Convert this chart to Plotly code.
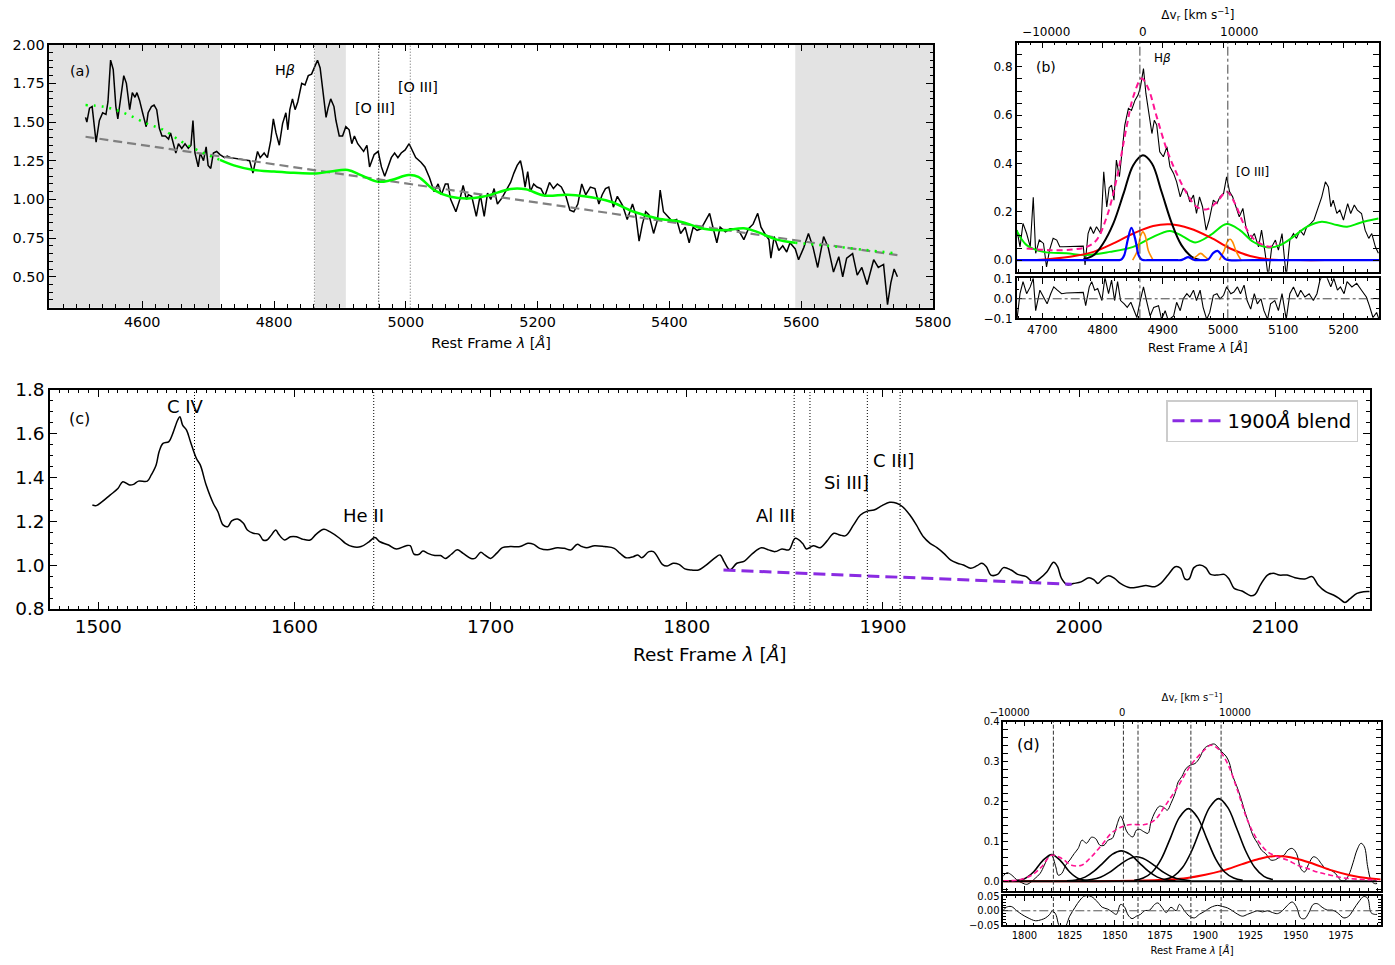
import plotly.graph_objects as go

FONT = "DejaVu Sans"

# ---------------- panel (a): H-beta region, continuum + Fe II ----------------
a_wave = [4514, 4516, 4520, 4524, 4530, 4535, 4540, 4545, 4548, 4552, 4556, 4560, 4563, 4567,
          4572, 4576, 4581, 4585, 4589, 4592, 4596, 4600, 4606, 4609, 4614, 4618, 4622, 4626,
          4630, 4635, 4640, 4643, 4647, 4651, 4655, 4660, 4665, 4670, 4674, 4677, 4680, 4685,
          4688, 4693, 4697, 4700, 4704, 4708, 4713, 4718, 4725, 4729, 4734, 4749, 4763, 4768,
          4775, 4779, 4785, 4790, 4795, 4799, 4803, 4808, 4813, 4818, 4821, 4824, 4828, 4832,
          4836, 4842, 4847, 4852, 4857, 4861, 4866, 4870, 4874, 4879, 4882, 4886, 4891, 4894,
          4899, 4904, 4909, 4914, 4918, 4922, 4927, 4931, 4936, 4941, 4945, 4952, 4958, 4963,
          4968, 4973, 4978, 4983, 4988, 4993, 4999, 5005, 5010, 5015, 5023, 5029, 5036, 5043,
          5049, 5054, 5060, 5064, 5068, 5076, 5082, 5087, 5092, 5095, 5100, 5107, 5113, 5119,
          5124, 5129, 5134, 5139, 5146, 5152, 5159, 5164, 5169, 5174, 5177, 5181, 5185, 5189,
          5194, 5199, 5205, 5211, 5218, 5224, 5230, 5236, 5243, 5249, 5255, 5261, 5267, 5273,
          5280, 5287, 5293, 5298, 5303, 5308, 5315, 5321, 5329, 5336, 5344, 5349, 5354, 5359,
          5364, 5369, 5376, 5382, 5386, 5391, 5397, 5404, 5411, 5417, 5424, 5430, 5436, 5442,
          5448, 5455, 5461, 5466, 5472, 5477, 5485, 5492, 5498, 5505, 5513, 5520, 5527, 5534,
          5539, 5546, 5551, 5554, 5559, 5566, 5572, 5578, 5583, 5591, 5596, 5604, 5611, 5618,
          5625, 5634, 5641, 5649, 5657, 5663, 5669, 5678, 5685, 5692, 5700, 5710, 5717, 5725,
          5731, 5736, 5741, 5746]
a_flux = [1.53, 1.50, 1.59, 1.60, 1.37, 1.51, 1.56, 1.55, 1.63, 1.90, 1.84, 1.60, 1.52, 1.66,
          1.80, 1.75, 1.58, 1.69, 1.66, 1.69, 1.64, 1.57, 1.47, 1.56, 1.60, 1.61, 1.58, 1.46,
          1.41, 1.41, 1.39, 1.43, 1.36, 1.30, 1.36, 1.33, 1.36, 1.33, 1.35, 1.51, 1.30, 1.21,
          1.30, 1.25, 1.34, 1.22, 1.20, 1.30, 1.31, 1.29, 1.27, 1.28, 1.27, 1.26, 1.25, 1.17,
          1.31, 1.27, 1.30, 1.27, 1.38, 1.52, 1.43, 1.35, 1.49, 1.56, 1.45, 1.58, 1.65, 1.58,
          1.63, 1.75, 1.74, 1.80, 1.81, 1.85, 1.90, 1.85, 1.69, 1.53, 1.59, 1.65, 1.60, 1.51,
          1.41, 1.41, 1.47, 1.45, 1.36, 1.41, 1.36, 1.34, 1.31, 1.35, 1.21, 1.29, 1.31, 1.21,
          1.15, 1.21, 1.27, 1.30, 1.27, 1.30, 1.32, 1.36, 1.31, 1.27, 1.24, 1.21, 1.14, 1.05,
          1.10, 1.03, 1.10, 1.10, 1.00, 0.92, 1.00, 1.09, 1.00, 1.03, 1.02, 0.89, 1.03, 0.89,
          1.04, 1.00, 1.07, 0.97, 1.01, 1.06, 1.11, 1.17, 1.22, 1.25, 1.19, 1.08, 1.18, 1.05,
          1.10, 1.08, 1.07, 1.02, 1.11, 1.07, 1.10, 1.08, 1.02, 0.93, 0.92, 0.97, 1.10, 1.03,
          1.08, 1.07, 0.97, 1.03, 1.07, 1.08, 0.95, 1.02, 0.96, 0.87, 0.97, 0.90, 0.73, 0.84,
          0.92, 0.90, 0.78, 0.87, 1.06, 0.92, 0.89, 0.86, 0.87, 0.78, 0.82, 0.72, 0.82, 0.80,
          0.81, 0.86, 0.91, 0.82, 0.72, 0.82, 0.79, 0.81, 0.81, 0.80, 0.74, 0.81, 0.84, 0.91,
          0.82, 0.77, 0.74, 0.62, 0.76, 0.67, 0.70, 0.66, 0.72, 0.68, 0.61, 0.69, 0.78, 0.69,
          0.56, 0.76, 0.69, 0.53, 0.63, 0.50, 0.62, 0.65, 0.51, 0.56, 0.45, 0.61, 0.56, 0.58,
          0.32, 0.46, 0.55, 0.50]

# continuum + Fe II model inside the fitted window
a_model_wave = [4718, 4739, 4769, 4800, 4830, 4864, 4886, 4912, 4932, 4958, 4978, 5004, 5019,
                5043, 5068, 5094, 5116, 5129, 5159, 5182, 5210, 5245, 5271, 5311, 5346, 5382,
                5417, 5452, 5483, 5513, 5533, 5563, 5591]
a_model_flux = [1.255, 1.22, 1.19, 1.18, 1.172, 1.168, 1.18, 1.19, 1.157, 1.114, 1.125, 1.157,
                1.146, 1.06, 1.017, 1.006, 1.017, 1.03, 1.067, 1.065, 1.025, 1.03, 1.02, 0.985,
                0.92, 0.877, 0.856, 0.81, 0.80, 0.813, 0.79, 0.74, 0.72]
# model extrapolated outside the window
a_ext_blue_wave = [4514, 4540, 4556, 4580, 4607, 4632, 4657, 4683, 4718]
a_ext_blue_flux = [1.61, 1.60, 1.584, 1.545, 1.49, 1.45, 1.38, 1.32, 1.255]
a_ext_red_wave = [5591, 5654, 5746]
a_ext_red_flux = [0.72, 0.694, 0.65]
# power-law continuum
a_pl_wave = [4514, 5746]
a_pl_flux = [1.405, 0.64]
# regions excluded from the fit
a_mask_lo = [4440, 4862, 5591]
a_mask_hi = [4718, 4909, 5820]
a_line_wave = [4861.3, 4958.9, 5006.8]
a_line_color = ["#666666", "#000000", "#666666"]

# ---------------- panel (b): H-beta multi-component fit ----------------
b_wave = [4658, 4663, 4668, 4674, 4680, 4685, 4689, 4695, 4702, 4707, 4712, 4718, 4724, 4729,
          4735, 4768, 4771, 4776, 4780, 4785, 4790, 4797, 4802, 4807, 4811, 4815, 4819, 4823,
          4828, 4833, 4837, 4843, 4848, 4854, 4859, 4863, 4868, 4872, 4876, 4882, 4886, 4890,
          4895, 4901, 4907, 4912, 4918, 4923, 4929, 4934, 4940, 4945, 4951, 4956, 4961, 4966,
          4972, 4977, 4984, 4990, 4995, 5001, 5006, 5011, 5016, 5022, 5027, 5033, 5038, 5045,
          5052, 5059, 5064, 5070, 5075, 5081, 5087, 5092, 5098, 5105, 5111, 5117, 5122, 5128,
          5134, 5139, 5146, 5151, 5158, 5164, 5170, 5175, 5179, 5183, 5189, 5194, 5200, 5207,
          5212, 5218, 5223, 5230, 5236, 5242, 5247, 5253, 5258]
b_flux = [0.124, 0.055, 0.152, 0.11, 0.055, 0.26, 0.028, 0.083, 0.069, -0.028, 0.041, 0.09,
          0.083, 0.055, 0.055, 0.058, -0.02, 0.11, 0.138, 0.11, 0.138, 0.11, 0.366, 0.22, 0.30,
          0.31, 0.248, 0.414, 0.345, 0.469, 0.559, 0.628, 0.62, 0.662, 0.683, 0.717, 0.793,
          0.69, 0.62, 0.524, 0.579, 0.559, 0.448, 0.428, 0.469, 0.386, 0.359, 0.324, 0.262,
          0.297, 0.283, 0.241, 0.269, 0.193, 0.262, 0.221, 0.124, 0.166, 0.248, 0.234, 0.262,
          0.276, 0.345, 0.283, 0.262, 0.221, 0.179, 0.214, 0.138, 0.083, 0.11, 0.055, 0.124,
          0.028, -0.069, 0.055, 0.083, 0.041, 0.11, -0.069, 0.083, 0.11, 0.09, 0.124, 0.103,
          0.138, 0.152, 0.166, 0.221, 0.262, 0.324, 0.303, 0.221, 0.248, 0.193, 0.207, 0.166,
          0.234, 0.193, 0.228, 0.207, 0.193, 0.124, 0.09, 0.11, 0.055, 0.028]
b_total_wave = [4674, 4713, 4751, 4774, 4790, 4807, 4823, 4840, 4851, 4865, 4876, 4890, 4907,
                4923, 4940, 4956, 4973, 4990, 5006, 5020, 5034, 5050, 5067, 5078, 5089]
b_total_flux = [0.048, 0.041, 0.044, 0.055, 0.083, 0.179, 0.331, 0.552, 0.676, 0.752, 0.71,
                0.593, 0.455, 0.359, 0.276, 0.221, 0.21, 0.241, 0.283, 0.234, 0.152, 0.09,
                0.062, 0.055, 0.069]
b_broad_wave = [4768, 4785, 4801, 4818, 4835, 4851, 4867, 4882, 4898, 4915, 4931, 4948, 4962]
b_broad_flux = [0.003, 0.02, 0.069, 0.152, 0.276, 0.393, 0.434, 0.40, 0.283, 0.152, 0.062,
                0.014, 0.001]
b_vbc_wave = [4691, 4746, 4785, 4818, 4851, 4884, 4912, 4945, 4979, 5012, 5045, 5078, 5128,
              5170]
b_vbc_flux = [0.0, 0.014, 0.034, 0.069, 0.11, 0.141, 0.148, 0.131, 0.094, 0.048, 0.017, 0.003,
              0.0, 0.0]
b_feii_wave = [4657, 4674, 4702, 4740, 4774, 4812, 4851, 4879, 4912, 4934, 4954, 4979, 5006,
               5028, 5050, 5075, 5095, 5117, 5139, 5164, 5189, 5206, 5228, 5258]
b_feii_flux = [0.124, 0.062, 0.034, 0.028, 0.021, 0.034, 0.055, 0.09, 0.121, 0.097, 0.073,
               0.103, 0.149, 0.124, 0.076, 0.052, 0.062, 0.097, 0.138, 0.159, 0.145, 0.138,
               0.155, 0.172]
b_narrow_wave = [4850, 4858, 4863, 4867, 4871, 4876, 4884, None, 4948, 4955, 4963, 4970, 4977,
                 None, 4994, 5002, 5008, 5012, 5016, 5022, 5030]
b_narrow_flux = [0.0, 0.04, 0.10, 0.117, 0.10, 0.04, 0.0, None, 0.0, 0.014, 0.028, 0.014, 0.0,
                 None, 0.0, 0.04, 0.08, 0.086, 0.075, 0.035, 0.0]
b_blue_wave = [4657, 4700, 4750, 4800, 4820, 4828, 4832, 4836, 4842, 4848, 4854, 4860, 4864,
               4868, 4880, 4920, 4930, 4936, 4942, 4948, 4954, 4960, 4970, 4976, 4984, 4991,
               4998, 5004, 5010, 5050, 5150, 5259]
b_blue_flux = [0.0, 0.0, 0.0, 0.0, 0.0, 0.0, 0.004, 0.02, 0.085, 0.134, 0.09, 0.02, 0.004, 0.0,
               0.0, 0.0, 0.0, 0.006, 0.012, 0.006, 0.0, 0.0, 0.0, 0.004, 0.03, 0.038, 0.02,
               0.004, 0.0, 0.0, 0.0, 0.0]
b_res_wave = [4658, 4663, 4668, 4674, 4680, 4685, 4689, 4696, 4702, 4708, 4714, 4719, 4725,
              4732, 4740, 4768, 4772, 4778, 4782, 4787, 4792, 4799, 4804, 4810, 4815, 4820,
              4825, 4830, 4836, 4841, 4847, 4852, 4857, 4862, 4868, 4873, 4879, 4885, 4893,
              4898, 4904, 4909, 4918, 4923, 4929, 4934, 4940, 4945, 4951, 4956, 4962, 4967,
              4973, 4978, 4984, 4990, 4995, 5001, 5006, 5013, 5018, 5024, 5029, 5035, 5040,
              5046, 5052, 5057, 5063, 5068, 5074, 5079, 5086, 5092, 5098, 5105, 5111, 5117,
              5124, 5129, 5136, 5143, 5150, 5156, 5161, 5167, 5172, 5179, 5184, 5190, 5195,
              5201, 5206, 5214, 5222, 5230, 5238, 5243, 5249, 5255, 5259]
b_res = [-0.105, 0.026, 0.088, 0.026, 0.061, 0.105, -0.061, 0.044, 0.009, -0.026, 0.026,
         0.061, 0.044, 0.026, 0.03, 0.033, -0.035, 0.061, 0.088, 0.044, 0.053, -0.009, 0.11,
         0.026, 0.096, -0.009, 0.088, -0.009, -0.026, -0.044, -0.018, -0.053, -0.096, -0.018,
         0.061, -0.009, -0.088, -0.044, -0.035, -0.105, -0.061, -0.11, -0.088, -0.018, -0.061,
         0.0, 0.026, 0.009, 0.044, -0.009, 0.044, -0.044, -0.105, -0.07, 0.018, 0.026, 0.0,
         0.018, 0.061, 0.026, 0.035, 0.061, 0.026, 0.07, -0.009, -0.053, 0.026, -0.026, 0.0,
         -0.061, -0.105, -0.026, -0.009, -0.061, 0.026, -0.105, 0.026, 0.061, 0.009, 0.044,
         0.009, 0.026, -0.009, 0.026, 0.096, 0.13, 0.114, 0.061, 0.105, 0.044, 0.061, 0.026,
         0.088, 0.061, 0.079, 0.044, 0.009, -0.035, -0.096, -0.07, -0.105]
b_line_wave = [4862.0, 5008.0]
b_vel_ticks = [-10000, 0, 10000]

# ---------------- panel (c): UV spectrum ----------------
c_wave = [1497, 1499, 1502, 1506, 1510, 1512.5, 1516, 1518, 1520.5, 1525, 1527, 1529.5, 1531,
          1533, 1536, 1538, 1540.5, 1541.6, 1543, 1545, 1547, 1550, 1552, 1555, 1558.6, 1561,
          1563.6, 1566, 1568, 1571, 1574, 1576, 1579, 1582, 1584, 1586, 1588, 1590.5, 1592,
          1595, 1598, 1601, 1604.5, 1608, 1611, 1615, 1618, 1623, 1626, 1629.5, 1634, 1638,
          1641, 1643.6, 1648, 1652, 1657, 1659, 1661, 1663.6, 1665.5, 1668, 1671.6, 1674.5,
          1677, 1680, 1683, 1686, 1690, 1692, 1695, 1697, 1700, 1703, 1706, 1710, 1715, 1719,
          1722, 1725, 1729, 1734, 1737.5, 1741, 1744, 1746.6, 1749, 1753, 1758, 1763, 1766,
          1769, 1772.7, 1775, 1777, 1780.7, 1783, 1785, 1787.5, 1790, 1793, 1796, 1799, 1802.5,
          1806, 1809.5, 1814, 1817, 1819, 1822, 1825.5, 1829.4, 1833.6, 1838, 1841.6, 1845,
          1848.5, 1852, 1855.3, 1859, 1861, 1864.5, 1868, 1871.4, 1875, 1878, 1881, 1885,
          1888.5, 1892, 1895.4, 1899.5, 1903.4, 1907, 1910, 1913.7, 1917, 1920.6, 1924,
          1927.5, 1931, 1934.4, 1938, 1941, 1944.7, 1948, 1950.4, 1952.7, 1955, 1958.4,
          1961.4, 1965.3, 1968.7, 1973, 1976.7, 1980, 1983.6, 1987, 1989, 1991, 1994, 1997,
          2001, 2005, 2007.7, 2009.5, 2012, 2015, 2018, 2021, 2026, 2030.6, 2034, 2038.6,
          2041.6, 2045.5, 2049, 2051.7, 2054, 2056, 2058.5, 2061.5, 2064.5, 2067, 2070.7, 2074,
          2076.4, 2079, 2083, 2087.4, 2089.7, 2092.4, 2096, 2099, 2102, 2106, 2110, 2115,
          2118.8, 2121.8, 2125.7, 2129.6, 2132.5, 2135.5, 2138, 2141.6, 2145, 2149.5]
c_flux = [1.275, 1.272, 1.29, 1.32, 1.35, 1.381, 1.366, 1.369, 1.384, 1.384, 1.412, 1.458,
          1.518, 1.556, 1.564, 1.602, 1.663, 1.678, 1.64, 1.617, 1.564, 1.488, 1.458, 1.366,
          1.283, 1.244, 1.184, 1.176, 1.202, 1.211, 1.191, 1.161, 1.146, 1.141, 1.115, 1.115,
          1.135, 1.161, 1.141, 1.115, 1.13, 1.13, 1.118, 1.115, 1.141, 1.164, 1.153, 1.123,
          1.10, 1.085, 1.085, 1.107, 1.126, 1.107, 1.092, 1.074, 1.089, 1.089, 1.05, 1.05,
          1.065, 1.054, 1.044, 1.044, 1.031, 1.05, 1.07, 1.054, 1.031, 1.031, 1.059, 1.047,
          1.031, 1.054, 1.08, 1.085, 1.085, 1.10, 1.095, 1.077, 1.07, 1.08, 1.077, 1.07, 1.095,
          1.085, 1.08, 1.089, 1.085, 1.077, 1.054, 1.034, 1.039, 1.047, 1.034, 1.062, 1.062,
          1.039, 1.004, 0.996, 1.009, 1.004, 0.983, 0.978, 0.978, 0.998, 1.031, 1.047, 1.016,
          0.978, 1.009, 1.019, 1.054, 1.08, 1.07, 1.062, 1.074, 1.07, 1.123, 1.10, 1.074,
          1.089, 1.08, 1.11, 1.146, 1.138, 1.135, 1.184, 1.229, 1.247, 1.252, 1.272, 1.287,
          1.283, 1.267, 1.229, 1.184, 1.13, 1.10, 1.08, 1.054, 1.024, 1.009, 1.001, 0.986,
          0.998, 1.009, 0.993, 0.955, 0.958, 0.989, 0.978, 0.958, 0.948, 0.922, 0.94, 0.97,
          1.013, 0.993, 0.94, 0.91, 0.916, 0.924, 0.943, 0.932, 0.917, 0.937, 0.952, 0.94,
          0.917, 0.897, 0.902, 0.907, 0.902, 0.917, 0.958, 0.993, 0.986, 0.937, 0.937, 0.989,
          1.001, 0.989, 0.958, 0.955, 0.958, 0.937, 0.894, 0.882, 0.861, 0.867, 0.91, 0.955,
          0.963, 0.955, 0.955, 0.943, 0.937, 0.948, 0.91, 0.879, 0.864, 0.849, 0.83, 0.846,
          0.871, 0.879, 0.879]
c_blend_wave = [1818.7, 1996.2]
c_blend_flux = [0.978, 0.913]
c_line_wave = [1549.06, 1640.42, 1854.72, 1862.79, 1892.03, 1908.73]

# ---------------- panel (d): 1900 A blend fit ----------------
d_wave = [1787.9, 1790.3, 1793, 1795.8, 1798.5, 1801.3, 1803.7, 1805.9, 1808.6, 1811, 1813.2,
          1815, 1817.3, 1818.7, 1820.6, 1822.8, 1825.1, 1827.5, 1829.7, 1831.9, 1834.3, 1837,
          1839.3, 1841.7, 1844, 1846.3, 1848.5, 1849.9, 1851.4, 1853.2, 1854.7, 1856.4, 1858.2,
          1860, 1861.9, 1863.7, 1866, 1868.3, 1870, 1872.3, 1874.7, 1877, 1879, 1881, 1883.3,
          1885, 1887, 1889.4, 1891.8, 1894.3, 1896.7, 1899.5, 1902.2, 1905, 1906.8, 1909,
          1911.4, 1913.3, 1915, 1917.5, 1919.7, 1921.9, 1924.3, 1926.7, 1928.9, 1931, 1933.4,
          1936.2, 1938.9, 1941.3, 1943.5, 1945.7, 1948.1, 1950.5, 1952.7, 1954.9, 1957.3,
          1959.7, 1961.9, 1964.1, 1966.5, 1969.2, 1972, 1974.7, 1977, 1979.3, 1981.7, 1983.9,
          1986.1, 1988, 1989.8, 1991.6, 1993.5, 1995]
d_flux = [0.011, 0.021, 0.015, 0.003, -0.004, -0.008, -0.002, 0.007, 0.019, 0.04, 0.061, 0.065,
          0.036, 0.015, 0.019, 0.04, 0.053, 0.069, 0.082, 0.103, 0.095, 0.11, 0.107, 0.09, 0.09,
          0.103, 0.107, 0.121, 0.145, 0.163, 0.149, 0.126, 0.115, 0.111, 0.128, 0.13, 0.124,
          0.12, 0.149, 0.174, 0.188, 0.185, 0.178, 0.195, 0.22, 0.249, 0.262, 0.283, 0.291,
          0.295, 0.308, 0.333, 0.341, 0.344, 0.337, 0.325, 0.314, 0.297, 0.266, 0.237, 0.208,
          0.174, 0.141, 0.111, 0.095, 0.078, 0.069, 0.053, 0.054, 0.061, 0.065, 0.078, 0.082,
          0.069, 0.032, 0.023, 0.044, 0.061, 0.057, 0.044, 0.032, 0.028, 0.019, 0.003, 0.001,
          0.015, 0.046, 0.078, 0.095, 0.086, 0.036, 0.003, -0.006, -0.006]
d_total_wave = [1788.4, 1796.7, 1804, 1809.5, 1815, 1820.6, 1826, 1831.6, 1837, 1842.6, 1848,
                1853.6, 1859, 1866.4, 1872, 1877.5, 1884.8, 1892, 1899.5, 1903, 1906.8, 1912.3,
                1917.8, 1923.3, 1928.9, 1934.4, 1939.9, 1945.4, 1950.9, 1956.4, 1961.9, 1969.2,
                1976.6, 1983.9, 1995]
d_total_flux = [0.001, 0.003, 0.015, 0.036, 0.065, 0.057, 0.04, 0.04, 0.061, 0.09, 0.12, 0.136,
                0.142, 0.142, 0.153, 0.187, 0.237, 0.291, 0.329, 0.341, 0.333, 0.295, 0.228,
                0.153, 0.103, 0.074, 0.061, 0.053, 0.04, 0.032, 0.023, 0.015, 0.008, 0.005,
                0.003]
d_siii_wave = [1795, 1800, 1805, 1810, 1815, 1820, 1825, 1830, 1835]
d_siii_flux = [0.001, 0.006, 0.023, 0.051, 0.067, 0.051, 0.023, 0.006, 0.001]
d_aliii_a_wave = [1823.5, 1828.5, 1833.5, 1838.5, 1843.5, 1848.5, 1853.5, 1858.5, 1863.5,
                  1868.5, 1873.5, 1878.5, 1883.5]
d_aliii_a_flux = [0.001, 0.003, 0.010, 0.025, 0.046, 0.067, 0.076, 0.067, 0.046, 0.025, 0.010,
                  0.003, 0.001]
d_aliii_b_wave = [1832, 1837, 1842, 1847, 1852, 1857, 1862, 1867, 1872, 1877, 1882, 1887, 1892]
d_aliii_b_flux = [0.001, 0.004, 0.010, 0.022, 0.039, 0.054, 0.061, 0.054, 0.039, 0.022, 0.010,
                  0.004, 0.001]
d_siiii_wave = [1860.7, 1865.7, 1870.7, 1875.7, 1880.7, 1885.7, 1890.7, 1895.7, 1900.7, 1905.7,
                1910.7, 1915.7, 1920.7]
d_siiii_flux = [0.002, 0.008, 0.023, 0.056, 0.108, 0.16, 0.182, 0.16, 0.108, 0.056, 0.023,
                0.008, 0.002]
d_ciii_wave = [1877.4, 1882.4, 1887.4, 1892.4, 1897.4, 1902.4, 1907.4, 1912.4, 1917.4, 1922.4,
               1927.4, 1932.4, 1937.4]
d_ciii_flux = [0.004, 0.012, 0.034, 0.075, 0.132, 0.185, 0.207, 0.185, 0.132, 0.075, 0.034,
               0.012, 0.004]
d_red_wave = [1788, 1840, 1860, 1880, 1890, 1900, 1910, 1920, 1930, 1939, 1950, 1960, 1970,
              1980, 1990, 1997]
d_red_flux = [0.0, 0.0, 0.001, 0.004, 0.008, 0.016, 0.027, 0.042, 0.056, 0.063, 0.057, 0.043,
              0.027, 0.015, 0.007, 0.004]
d_res_wave = [1788, 1790, 1792.7, 1795.8, 1798.5, 1802, 1806, 1809.5, 1811.7, 1814, 1815.4,
              1817.3, 1819.6, 1822.4, 1825, 1828, 1830.7, 1833.4, 1837, 1840.4, 1843, 1846,
              1848.5, 1850.8, 1853.2, 1855.4, 1857.3, 1859.5, 1861.9, 1864.2, 1866.4, 1869.2,
              1872, 1873.8, 1876, 1878.4, 1881, 1883.9, 1885.7, 1888.5, 1891.2, 1894, 1896.7,
              1899.5, 1903.2, 1906.8, 1909.6, 1912.3, 1915, 1918, 1920.6, 1923.3, 1926, 1928.9,
              1931.6, 1934.4, 1937.1, 1939.9, 1942.6, 1945.4, 1948.1, 1950.5, 1952.7, 1955,
              1957.3, 1959.7, 1961.9, 1964.6, 1967.4, 1970.2, 1972.9, 1976.6, 1979.3, 1982.1,
              1984.8, 1987.6, 1989.8, 1991.6, 1993.5, 1995]
d_res = [0.0, 0.0125, 0.015, 0.0, -0.0125, -0.025, -0.035, -0.031, -0.025, -0.0125, 0.0,
         -0.0125, -0.056, -0.056, -0.019, 0.0125, 0.0375, 0.0525, 0.05, 0.031, 0.0125, 0.006,
         -0.004, -0.0125, 0.0225, 0.0125, -0.015, -0.0275, -0.019, -0.0125, 0.0, 0.0025,
         0.0225, 0.0275, 0.0125, -0.006, 0.0125, 0.0, 0.0225, 0.0, -0.019, -0.025, -0.0125,
         -0.0025, 0.0125, 0.019, 0.015, 0.01, 0.0, -0.0125, -0.019, -0.0125, -0.006, 0.0,
         -0.004, 0.0, -0.006, -0.01, 0.0, 0.019, 0.031, 0.0125, -0.025, -0.0275, -0.006, 0.0225,
         0.025, 0.0125, 0.0025, 0.0025, -0.006, -0.025, -0.019, 0.006, 0.031, 0.05, 0.044,
         -0.006, -0.0125, -0.0125]
d_line_wave = [1816.0, 1854.72, 1862.79, 1892.03, 1908.73]
d_vel_ticks = [-10000, 0, 10000]

W, H = 1395, 965


def px(x):
    return x / W


def py(y):
    return 1 - y / H


fig = go.Figure()


def line(x, y, xa, ya, color="black", width=1.0, dash="solid", shape="linear", name=None,
         legend=False):
    fig.add_trace(go.Scatter(x=x, y=y, xaxis=xa, yaxis=ya, mode="lines", name=name,
                             showlegend=legend, hoverinfo="skip",
                             line=dict(color=color, width=width, dash=dash, shape=shape)))


# panel (a)
line(a_wave, a_flux, "x", "y", width=1.5)
line(a_pl_wave, a_pl_flux, "x", "y", color="gray", width=2.2, dash="9px,5px")
line(a_model_wave, a_model_flux, "x", "y", color="#00ff00", width=2.5, shape="spline")
line(a_ext_blue_wave, a_ext_blue_flux, "x", "y", color="#00ff00", width=2.5, dash="2px,6px",
     shape="spline")
line(a_ext_red_wave, a_ext_red_flux, "x", "y", color="#00ff00", width=2.5, dash="2px,6px",
     shape="spline")

# panel (b)
line(b_wave, b_flux, "x2", "y2", width=1.1)
line(b_feii_wave, b_feii_flux, "x2", "y2", color="#00ee00", width=2, shape="spline")
line(b_vbc_wave, b_vbc_flux, "x2", "y2", color="red", width=2, shape="spline")
line(b_broad_wave, b_broad_flux, "x2", "y2", color="black", width=2, shape="spline")
line(b_narrow_wave, b_narrow_flux, "x2", "y2", color="darkorange", width=1.6, shape="spline")
line(b_blue_wave, b_blue_flux, "x2", "y2", color="blue", width=2.2, shape="spline")
line(b_total_wave, b_total_flux, "x2", "y2", color="#ff1493", width=2, dash="6px,4px",
     shape="spline")
line(b_res_wave, b_res, "x3", "y3", width=1.1)
fig.add_trace(go.Scatter(x=b_vel_ticks, y=[None] * len(b_vel_ticks), xaxis="x4", yaxis="y2",
                         mode="lines", showlegend=False, hoverinfo="skip"))

# panel (c)
line(c_wave, c_flux, "x5", "y5", width=1.5, shape="spline")
line(c_blend_wave, c_blend_flux, "x5", "y5", color="#8a2be2", width=3, dash="12px,6px",
     name="1900<i>Å</i> blend", legend=True)

# panel (d)
line(d_wave, d_flux, "x6", "y6", width=1.0, shape="spline")
line(d_red_wave, d_red_flux, "x6", "y6", color="red", width=2, shape="spline")
for wv, fl in [(d_siii_wave, d_siii_flux), (d_aliii_a_wave, d_aliii_a_flux),
               (d_aliii_b_wave, d_aliii_b_flux), (d_siiii_wave, d_siiii_flux),
               (d_ciii_wave, d_ciii_flux)]:
    line(wv, fl, "x6", "y6", color="black", width=1.6, shape="spline")
line([d_wave[0], d_wave[-1]], [0, 0], "x6", "y6", color="black", width=2)
line(d_total_wave, d_total_flux, "x6", "y6", color="#ff1493", width=1.6, dash="5px,3px",
     shape="spline")
line(d_res_wave, d_res, "x7", "y7", width=1.0, shape="spline")
fig.add_trace(go.Scatter(x=d_vel_ticks, y=[None] * len(d_vel_ticks), xaxis="x8", yaxis="y6",
                         mode="lines", showlegend=False, hoverinfo="skip"))

DOT = "1px,2px"
shapes = []
for lo, hi in zip(a_mask_lo, a_mask_hi):
    shapes.append(dict(type="rect", xref="x", yref="y domain", x0=lo, x1=hi, y0=0, y1=1,
                       fillcolor="#e3e3e3", line=dict(width=0), layer="below"))
for wv, col in zip(a_line_wave, a_line_color):
    shapes.append(dict(type="line", xref="x", yref="y domain", x0=wv, x1=wv, y0=0, y1=1,
                       line=dict(color=col, width=1, dash=DOT)))
for wv in b_line_wave:
    for ya in ["y2", "y3"]:
        shapes.append(dict(type="line", xref="x2", yref=ya + " domain", x0=wv, x1=wv, y0=0,
                           y1=1, line=dict(color="#444", width=1, dash="dashdot")))
shapes.append(dict(type="line", xref="x3 domain", yref="y3", x0=0, x1=1, y0=0, y1=0,
                   line=dict(color="#444", width=1, dash="dashdot")))
for wv in c_line_wave:
    shapes.append(dict(type="line", xref="x5", yref="y5 domain", x0=wv, x1=wv, y0=0, y1=1,
                       line=dict(color="black", width=1, dash=DOT)))
for wv in d_line_wave:
    for ya in ["y6", "y7"]:
        shapes.append(dict(type="line", xref="x6", yref=ya + " domain", x0=wv, x1=wv, y0=0,
                           y1=1, line=dict(color="#333", width=1, dash="4px,2px")))
shapes.append(dict(type="line", xref="x7 domain", yref="y7", x0=0, x1=1, y0=0, y1=0,
                   line=dict(color="#555", width=1, dash="dashdot")))


def axis(domain, rng, dtick, mdtick, anchor, size, fmt=None, labels=True, title=None,
         standoff=6, tickvals=None, ticklen=7):
    d = dict(domain=domain, range=rng, anchor=anchor, showline=True, linecolor="black",
             linewidth=1.5, mirror="allticks", ticks="inside", ticklen=ticklen, tickwidth=1,
             tickcolor="black", showgrid=False, zeroline=False, showticklabels=labels,
             automargin=False,
             tickfont=dict(family=FONT, size=size, color="black"),
             minor=dict(dtick=mdtick, ticks="inside", ticklen=ticklen * 0.5, tickwidth=1,
                        tickcolor="black", showgrid=False))
    if tickvals is not None:
        d["tickvals"] = tickvals
        d["tickmode"] = "array"
    else:
        d["dtick"] = dtick
        d["tick0"] = 0
    if fmt:
        d["tickformat"] = fmt
    if title:
        d["title"] = dict(text=title, standoff=standoff,
                          font=dict(family=FONT, size=size, color="black"))
    return d


def vel_axis(over, anchor, rng, ticks, size):
    return dict(overlaying=over, side="top", anchor=anchor, range=rng, tickmode="array",
                tickvals=ticks, tickformat="d", ticks="", showline=False, showgrid=False,
                zeroline=False, automargin=False, ticklabelstandoff=3,
                tickfont=dict(family=FONT, size=size, color="black"),
                title=dict(text=vel_title, standoff=3,
                           font=dict(family=FONT, size=size, color="black")))


lam_title = "Rest Frame <i>λ</i> [<i>Å</i>]"
vel_title = "Δv<sub>r</sub> [km s<sup>−1</sup>]"

b_dom_x = [px(1016.7), px(1379)]
d_dom_x = [px(1003.3), px(1380.7)]

layout = dict(
    width=W, height=H, margin=dict(l=0, r=0, t=0, b=0, autoexpand=False),
    paper_bgcolor="white", plot_bgcolor="white", shapes=shapes,
    font=dict(family=FONT, color="black"),
    xaxis=axis([px(49.3), px(933)], [4459, 5800], 200, 20, "y", 14.4, title=lam_title,
               standoff=9),
    yaxis=axis([py(307.7), py(44.7)], [0.30, 2.00], 0.25, 0.05, "x", 14.4, fmt=".2f"),
    xaxis2=axis(b_dom_x, [4657.5, 5259], 100, 20, "y2", 12, labels=False, ticklen=6),
    yaxis2=axis([py(271.7), py(42.7)], [-0.048, 0.9], 0.2, 0.05, "x2", 12, fmt=".1f",
                ticklen=6),
    xaxis3=axis(b_dom_x, [4657.5, 5259], 100, 20, "y3", 12, title=lam_title, ticklen=6,
                standoff=7),
    yaxis3=axis([py(318.3), py(278.3)], [-0.1, 0.105], None, 0.05, "x3", 12, fmt=".1f",
                tickvals=[-0.1, 0.0, 0.1], ticklen=6),
    xaxis4=vel_axis("x2", "y2", [-13057, 24487], b_vel_ticks, 12),
    xaxis5=axis([px(50), px(1369.5)], [1475.4, 2148], 100, 5, "y5", 18.5, title=lam_title,
                standoff=12),
    yaxis5=axis([py(609), py(390)], [0.8, 1.8], 0.2, 0.05, "x5", 18.5, fmt=".1f"),
    xaxis6=axis(d_dom_x, [1788.3, 1997], 25, 5, "y6", 10, labels=False, ticklen=5),
    yaxis6=axis([py(890.7), py(721.7)], [-0.024, 0.4], 0.1, 0.02, "x6", 10, fmt=".1f",
                ticklen=5),
    xaxis7=axis(d_dom_x, [1788.3, 1997], 25, 5, "y7", 10, title=lam_title, ticklen=5,
                standoff=7),
    yaxis7=axis([py(925), py(896)], [-0.05, 0.052], None, 0.01, "x7", 10, fmt=".2f",
                tickvals=[-0.05, 0.0, 0.05], ticklen=5),
    xaxis8=vel_axis("x6", "y6", [-10559, 22928], d_vel_ticks, 10),
    legend=dict(x=px(1166), y=py(400), xanchor="left", yanchor="top",
                bgcolor="rgba(255,255,255,0.9)", bordercolor="#cccccc", borderwidth=1.5,
                font=dict(family=FONT, size=19.5, color="black"), itemwidth=50),
)

ann = []


def label(x, y, text, xa, ya, size):
    ann.append(dict(x=x, y=y, xref=xa, yref=ya, text=text, showarrow=False,
                    font=dict(family=FONT, size=size, color="black")))


label(4505.8, 1.832, "(a)", "x", "y", 14.4)
label(4816.7, 1.836, "H<i>β</i>", "x", "y", 14.4)
label(4952.9, 1.589, "[O III]", "x", "y", 14.4)
label(5018.2, 1.725, "[O III]", "x", "y", 14.4)
label(4705.6, 0.80, "(b)", "x2", "y2", 14)
label(4899, 0.837, "H<i>β</i>", "x2", "y2", 12)
label(5049, 0.365, "[O III]", "x2", "y2", 12)
label(1490.3, 1.671, "(c)", "x5", "y5", 16)
label(1544.3, 1.724, "C IV", "x5", "y5", 18)
label(1635.2, 1.226, "He II", "x5", "y5", 18)
label(1845.0, 1.229, "Al III", "x5", "y5", 18)
label(1881.4, 1.379, "Si III]", "x5", "y5", 18)
label(1905.5, 1.48, "C III]", "x5", "y5", 18)
label(1802, 0.342, "(d)", "x6", "y6", 16)
layout["annotations"] = ann

fig.update_layout(**layout)
fig.write_html("out.html")
